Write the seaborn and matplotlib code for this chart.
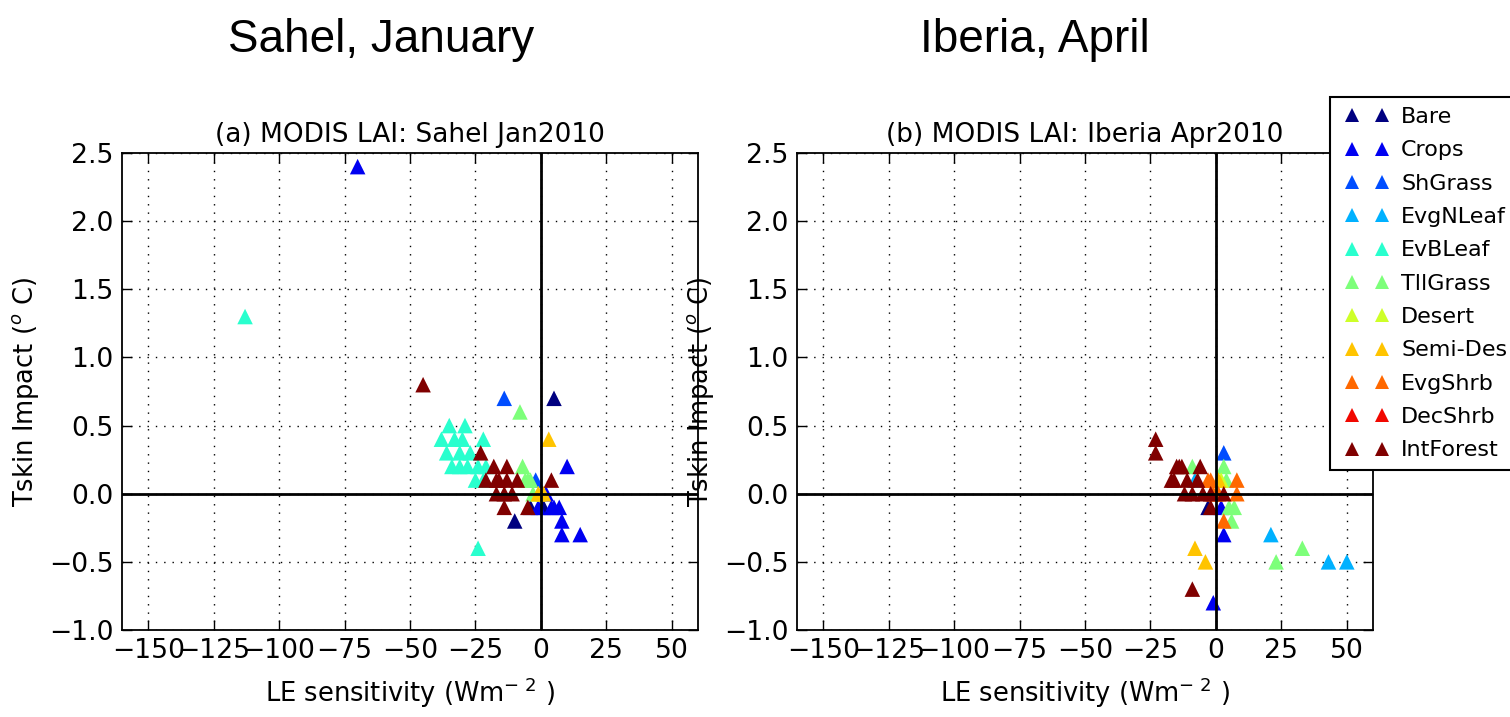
import numpy as np
import pandas as pd
import matplotlib
matplotlib.use("Agg")
import matplotlib.pyplot as plt
from matplotlib.lines import Line2D
from matplotlib.legend_handler import HandlerLine2D
from matplotlib.ticker import FuncFormatter
import seaborn as sns

# ---------------- data ----------------
categories = ["Bare", "Crops", "ShGrass", "EvgNLeaf", "EvBLeaf", "TllGrass",
              "Desert", "Semi-Des", "EvgShrb", "DecShrb", "IntForest"]

# Sahel, January 2010
sahel_le = [5, -10, -4, 1,
            -70, 10, 2, 4, 7, 8, 8, 15, -1, 5,
            -14, -2,
            -113, -24, -35, -29, -38, -33, -30, -22, -36, -31, -27, -34, -31, -28, -24, -25, -22, -21,
            -8, -7, -5, -6, -3, -4,
            -1,
            3, -1, 1,
            -45, -23, -18, -13, -21, -17, -13, -9, 4, -17, -14, -11, -14, -5, -16]
sahel_tskin = [0.7, -0.2, -0.1, -0.1,
               2.4, 0.2, 0.0, -0.1, -0.1, -0.2, -0.3, -0.3, -0.1, -0.1,
               0.7, 0.1,
               1.3, -0.4, 0.5, 0.5, 0.4, 0.4, 0.4, 0.4, 0.3, 0.3, 0.3, 0.2, 0.2, 0.2, 0.2, 0.1, 0.1, 0.2,
               0.6, 0.2, 0.1, 0.1, 0.0, 0.1,
               0.0,
               0.4, 0.0, 0.0,
               0.8, 0.3, 0.2, 0.2, 0.1, 0.1, 0.1, 0.1, 0.1, 0.0, 0.0, 0.0, -0.1, -0.1, 0.1]
sahel_type = (["Bare"] * 4 + ["Crops"] * 10 + ["ShGrass"] * 2 + ["EvBLeaf"] * 18 +
              ["TllGrass"] * 6 + ["Desert"] * 1 + ["Semi-Des"] * 3 + ["IntForest"] * 15)

# Iberia, April 2010
iberia_le = [-3,
             3, -1, 2,
             3,
             21, 43, 50, -8,
             3, -9, 5, 7, 6, 33, 23, 4,
             2,
             -8, -4, 1, 0,
             -3, 8, 8, 3, -1, 1, -2,
             -23, -23, -15, -13, -6, -16, -11, -7, -12, -9, -5, -2, 3, -2, -9, -14, -17]
iberia_tskin = [-0.1,
                -0.3, -0.8, -0.1,
                0.3,
                -0.3, -0.5, -0.5, 0.1,
                0.2, 0.2, -0.1, -0.1, -0.2, -0.4, -0.5, 0.1,
                0.1,
                -0.4, -0.5, 0.1, 0.0,
                0.1, 0.1, 0.0, -0.2, 0.0, 0.0, 0.1,
                0.4, 0.3, 0.2, 0.2, 0.2, 0.1, 0.1, 0.1, 0.0, 0.0, 0.0, 0.0, 0.0, -0.1, -0.7, 0.2, 0.1]
iberia_type = (["Bare"] * 1 + ["Crops"] * 3 + ["ShGrass"] * 1 + ["EvgNLeaf"] * 4 +
               ["TllGrass"] * 8 + ["Desert"] * 1 + ["Semi-Des"] * 4 + ["EvgShrb"] * 7 +
               ["IntForest"] * 17)

panel_titles = ["(a) MODIS LAI: Sahel Jan2010", "(b) MODIS LAI: Iberia Apr2010"]
big_titles = ["Sahel, January", "Iberia, April"]
x_ticks = [-150, -125, -100, -75, -50, -25, 0, 25, 50]
y_ticks = [-1.0, -0.5, 0.0, 0.5, 1.0, 1.5, 2.0, 2.5]

# ---------------- style ----------------
colors = [plt.cm.jet(v) for v in np.linspace(0, 1, len(categories))]
palette = dict(zip(categories, colors))

plt.rcParams["font.family"] = ["DejaVu Sans"]
plt.rcParams["mathtext.fontset"] = "dejavusans"

fig = plt.figure(figsize=(15.1, 7.17), dpi=100)
ax_w, ax_h = 576 / 1510, 477 / 717
ax_b = 1 - 630 / 717
axes = [fig.add_axes([122 / 1510, ax_b, ax_w, ax_h]),
        fig.add_axes([797 / 1510, ax_b, ax_w, ax_h])]

panels = [(sahel_le, sahel_tskin, sahel_type), (iberia_le, iberia_tskin, iberia_type)]
yfmt = FuncFormatter(lambda v, p: f"{v:.1f}".replace("-", "\u2212"))

for ax, (xs, ys, ts), title in zip(axes, panels, panel_titles):
    df = pd.DataFrame({"le": xs, "tskin": ys, "type": ts})
    sns.scatterplot(data=df, x="le", y="tskin", hue="type", hue_order=categories,
                    palette=palette, marker="^", s=125, linewidth=0, ax=ax,
                    legend=False, zorder=3)
    ax.axhline(0, color="black", lw=2, zorder=4)
    ax.axvline(0, color="black", lw=2, zorder=4)
    ax.set_xlim(-160, 60)
    ax.set_ylim(-1.0, 2.5)
    ax.set_xticks(x_ticks)
    ax.set_yticks(y_ticks)
    ax.yaxis.set_major_formatter(yfmt)
    ax.grid(True, color="black", lw=1, linestyle=(0, (1, 5)))
    ax.set_axisbelow(True)
    ax.tick_params(direction="in", length=7, width=1, top=True, right=True,
                   labelsize=19.2, pad=6, colors="black")
    for sp in ax.spines.values():
        sp.set_linewidth(1.3)
        sp.set_color("black")
    ax.set_title(title, fontsize=19, pad=8)
    ax.set_xlabel(r"LE sensitivity (Wm$^{-\ 2}$ )", fontsize=18.5, labelpad=8)
    ax.set_ylabel(r"Tskin Impact ($^o$ C)", fontsize=18.5, labelpad=6)

# big titles
fig.text(381 / 1510, 1 - 52 / 717, big_titles[0], ha="center", va="baseline",
         fontsize=33, family=["Liberation Sans", "DejaVu Sans"])
fig.text(1035 / 1510, 1 - 52 / 717, big_titles[1], ha="center", va="baseline",
         fontsize=33, family=["Liberation Sans", "DejaVu Sans"])

# legend
handles = [Line2D([], [], marker="^", linestyle="None", color=palette[c],
                  markersize=9.5, markeredgewidth=0) for c in categories]
leg = fig.legend(handles, categories, loc="upper left",
                 bbox_to_anchor=(1330 / 1510, 1 - 97 / 717),
                 handler_map={Line2D: HandlerLine2D(numpoints=2, marker_pad=0.55)},
                 fontsize=16, handlelength=2.45, handletextpad=0.3,
                 labelspacing=0.6, borderpad=0.45, borderaxespad=0,
                 frameon=True, fancybox=False, framealpha=1, edgecolor="black")
leg.get_frame().set_linewidth(1.5)

fig.savefig("out.png", dpi=100, facecolor="white")
